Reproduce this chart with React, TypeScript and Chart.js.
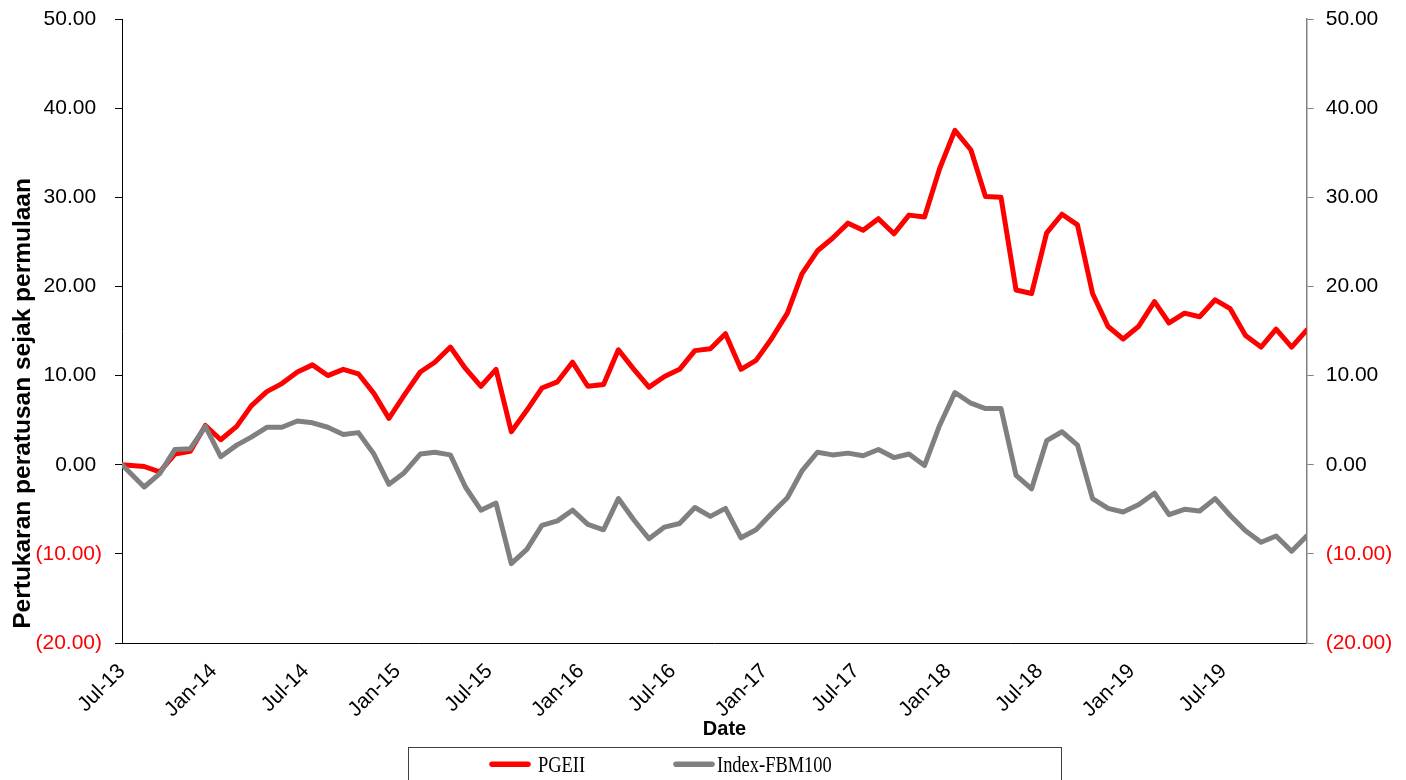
import React, { useEffect, useRef } from "react";
import { Chart, registerables } from "chart.js";

Chart.register(...registerables);

// ---- data ----
const sampleDates: string[] = [
  "2013-07-01", "2013-08-15", "2013-09-15", "2013-10-15", "2013-11-15", "2013-12-15",
  "2014-01-15", "2014-02-15", "2014-03-15", "2014-04-15", "2014-05-15", "2014-06-15",
  "2014-07-15", "2014-08-15", "2014-09-15", "2014-10-15", "2014-11-15", "2014-12-15",
  "2015-01-15", "2015-02-15", "2015-03-15", "2015-04-15", "2015-05-15", "2015-06-15",
  "2015-07-15", "2015-08-15", "2015-09-15", "2015-10-15", "2015-11-15", "2015-12-15",
  "2016-01-15", "2016-02-15", "2016-03-15", "2016-04-15", "2016-05-15", "2016-06-15",
  "2016-07-15", "2016-08-15", "2016-09-15", "2016-10-15", "2016-11-15", "2016-12-15",
  "2017-01-15", "2017-02-15", "2017-03-15", "2017-04-15", "2017-05-15", "2017-06-15",
  "2017-07-15", "2017-08-15", "2017-09-15", "2017-10-15", "2017-11-15", "2017-12-15",
  "2018-01-15", "2018-02-15", "2018-03-15", "2018-04-15", "2018-05-15", "2018-06-15",
  "2018-07-15", "2018-08-15", "2018-09-15", "2018-10-15", "2018-11-15", "2018-12-15",
  "2019-01-15", "2019-02-15", "2019-03-15", "2019-04-15", "2019-05-15", "2019-06-15",
  "2019-07-15", "2019-08-15", "2019-09-15", "2019-10-15", "2019-11-15", "2019-12-15",
];

const pgeii: number[] = [
  0.0, -0.2, -0.8, 1.2, 1.5, 4.4,
  2.8, 4.3, 6.6, 8.2, 9.1, 10.4,
  11.2, 10.0, 10.7, 10.2, 8.0, 5.2,
  7.8, 10.4, 11.5, 13.2, 10.8, 8.8,
  10.7, 3.7, 6.1, 8.6, 9.3, 11.5,
  8.8, 9.0, 12.9, 10.7, 8.7, 9.9,
  10.7, 12.8, 13.0, 14.7, 10.7, 11.7,
  14.1, 17.0, 21.4, 24.0, 25.4, 27.1,
  26.3, 27.6, 25.9, 28.0, 27.8, 33.2,
  37.5, 35.3, 30.1, 30.0, 19.6, 19.2,
  26.0, 28.1, 26.9, 19.2, 15.5, 14.1,
  15.5, 18.3, 15.9, 17.0, 16.6, 18.5,
  17.5, 14.5, 13.2, 15.2, 13.2, 15.1,
];

const fbm100: number[] = [
  0.0, -2.5, -1.0, 1.7, 1.8, 4.3,
  0.9, 2.2, 3.1, 4.2, 4.2, 4.9,
  4.7, 4.2, 3.4, 3.6, 1.2, -2.2,
  -0.9, 1.2, 1.4, 1.1, -2.5, -5.1,
  -4.3, -11.1, -9.5, -6.8, -6.3, -5.1,
  -6.7, -7.3, -3.8, -6.2, -8.3, -7.0,
  -6.6, -4.8, -5.8, -4.9, -8.2, -7.3,
  -5.5, -3.7, -0.7, 1.4, 1.1, 1.3,
  1.0, 1.7, 0.8, 1.2, -0.1, 4.4,
  8.1, 6.9, 6.3, 6.3, -1.2, -2.7,
  2.7, 3.7, 2.2, -3.8, -4.9, -5.3,
  -4.5, -3.2, -5.6, -5.0, -5.2, -3.8,
  -5.7, -7.4, -8.7, -8.0, -9.7, -8.0,
];

const tickLabels: string[] = [
  "Jul-13", "Jan-14", "Jul-14", "Jan-15", "Jul-15", "Jan-16", "Jul-16",
  "Jan-17", "Jul-17", "Jan-18", "Jul-18", "Jan-19", "Jul-19",
];

const seriesNames: string[] = ["PGEII", "Index-FBM100"];
const seriesColors: string[] = ["#FF0000", "#808080"];
const yTitle = "Pertukaran peratusan sejak permulaan";
const xTitle = "Date";

// ---- helpers ----
const SANS = '"Liberation Sans", Arial, sans-serif';
const SERIF = '"Liberation Serif", "Times New Roman", serif';
const MONTHS = ["Jan", "Feb", "Mar", "Apr", "May", "Jun", "Jul", "Aug", "Sep", "Oct", "Nov", "Dec"];

function monthsSinceStart(d: string): number {
  const [y, m, day] = d.split("-").map(Number);
  const dim = new Date(y, m, 0).getDate();
  return (y - 2013) * 12 + (m - 7) + (day - 1) / dim;
}

function labelValue(l: string): number {
  const [mon, yy] = l.split("-");
  return (2000 + Number(yy) - 2013) * 12 + (MONTHS.indexOf(mon) - 6);
}

function fmt(v: number, pad: boolean): string {
  if (v < 0) return `(${Math.abs(v).toFixed(2)})`;
  return pad ? `${v.toFixed(2)} ` : v.toFixed(2);
}

const overlayPlugin = {
  id: "overlay",
  afterDraw(chart: any) {
    const ctx: CanvasRenderingContext2D = chart.ctx;
    // y axis title
    ctx.save();
    ctx.fillStyle = "#000";
    ctx.font = `bold 24.5px ${SANS}`;
    ctx.textAlign = "center";
    ctx.textBaseline = "alphabetic";
    ctx.translate(30, 403.4);
    ctx.rotate(-Math.PI / 2);
    ctx.fillText(yTitle, 0, 0);
    ctx.restore();
    // x axis title
    ctx.save();
    ctx.fillStyle = "#000";
    ctx.font = `bold 20px ${SANS}`;
    ctx.textAlign = "center";
    ctx.textBaseline = "alphabetic";
    ctx.fillText(xTitle, 724.5, 734.5);
    ctx.restore();
    // legend
    ctx.save();
    ctx.strokeStyle = "#404040";
    ctx.lineWidth = 1;
    ctx.strokeRect(408.5, 747.5, 653, 60);
    const sampleX = [489, 673];
    const textX = [538, 717];
    chart.data.datasets.forEach((ds: any, i: number) => {
      ctx.strokeStyle = ds.borderColor;
      ctx.lineWidth = 5.5;
      ctx.lineCap = "round";
      ctx.beginPath();
      ctx.moveTo(sampleX[i] + 3, 764.3);
      ctx.lineTo(sampleX[i] + 39, 764.3);
      ctx.stroke();
      ctx.save();
      ctx.fillStyle = "#000";
      ctx.translate(textX[i], 771.7);
      ctx.scale(0.82, 1);
      ctx.font = `22.5px ${SERIF}`;
      ctx.textAlign = "left";
      ctx.textBaseline = "alphabetic";
      ctx.fillText(ds.label, 0, 0);
      ctx.restore();
    });
    ctx.restore();
  },
};

export default function App() {
  const canvasRef = useRef<HTMLCanvasElement | null>(null);

  useEffect(() => {
    if (!canvasRef.current) return;
    const xs = sampleDates.map(monthsSinceStart);
    const tickValues = tickLabels.map(labelValue);
    const xTickFont = { family: SANS, size: 21 };
    const yTickFont = { family: SANS, size: 21, lineHeight: 0.5 };

    const chart = new Chart(canvasRef.current, {
      type: "line",
      data: {
        datasets: [
          {
            label: seriesNames[0],
            data: xs.map((x, i) => ({ x, y: pgeii[i] })),
            borderColor: seriesColors[0],
            backgroundColor: seriesColors[0],
            borderWidth: 5,
            pointRadius: 0,
            borderJoinStyle: "round",
            borderCapStyle: "round",
            yAxisID: "y",
            order: 1,
          },
          {
            label: seriesNames[1],
            data: xs.map((x, i) => ({ x, y: fbm100[i] })),
            borderColor: seriesColors[1],
            backgroundColor: seriesColors[1],
            borderWidth: 5,
            pointRadius: 0,
            borderJoinStyle: "round",
            borderCapStyle: "round",
            yAxisID: "y1",
            order: 0,
          },
        ],
      },
      options: {
        animation: false,
        responsive: false,
        maintainAspectRatio: false,
        layout: { padding: { top: 19, left: 0, right: 0, bottom: 0 } },
        plugins: {
          legend: { display: false },
          tooltip: { enabled: false },
        },
        scales: {
          x: {
            type: "linear",
            min: 0,
            max: xs[xs.length - 1],
            afterBuildTicks: (s: any) => {
              s.ticks = tickValues.map((v) => ({ value: v }));
            },
            afterFit: (s: any) => {
              s.height = 137;
            },
            grid: { drawOnChartArea: false, drawTicks: false },
            border: { color: "#000", width: 1 },
            ticks: {
              autoSkip: false,
              maxRotation: 45,
              minRotation: 45,
              padding: 16,
              color: "#000",
              font: xTickFont,
              callback: (v: any) => {
                const idx = tickValues.indexOf(Number(v));
                return idx >= 0 ? tickLabels[idx] : "";
              },
            },
          },
          y: {
            position: "left",
            min: -20,
            max: 50,
            afterFit: (s: any) => {
              s.width = 122;
            },
            grid: { drawOnChartArea: false, tickLength: 7, color: "#000" },
            border: { color: "#000", width: 1 },
            ticks: {
              stepSize: 10,
              padding: 13,
              font: yTickFont,
              color: (c: any) => (c.tick && c.tick.value < 0 ? "#FF0000" : "#000"),
              callback: (v: any) => fmt(Number(v), true),
            },
          },
          y1: {
            position: "right",
            min: -20,
            max: 50,
            afterFit: (s: any) => {
              s.width = 1406 - 1306.7;
            },
            grid: { drawOnChartArea: false, tickLength: 7, color: "#808080" },
            border: { color: "#808080", width: 1.5 },
            ticks: {
              stepSize: 10,
              padding: 12,
              font: yTickFont,
              color: (c: any) => (c.tick && c.tick.value < 0 ? "#FF0000" : "#000"),
              callback: (v: any) => fmt(Number(v), false),
            },
          },
        },
      },
      plugins: [overlayPlugin],
    } as any);

    return () => chart.destroy();
  }, []);

  return (
    <div style={{ position: "fixed", left: 0, top: 0, width: 1406, height: 780, background: "#fff" }}>
      <canvas ref={canvasRef} width={1406} height={780} style={{ width: 1406, height: 780, display: "block" }} />
    </div>
  );
}
